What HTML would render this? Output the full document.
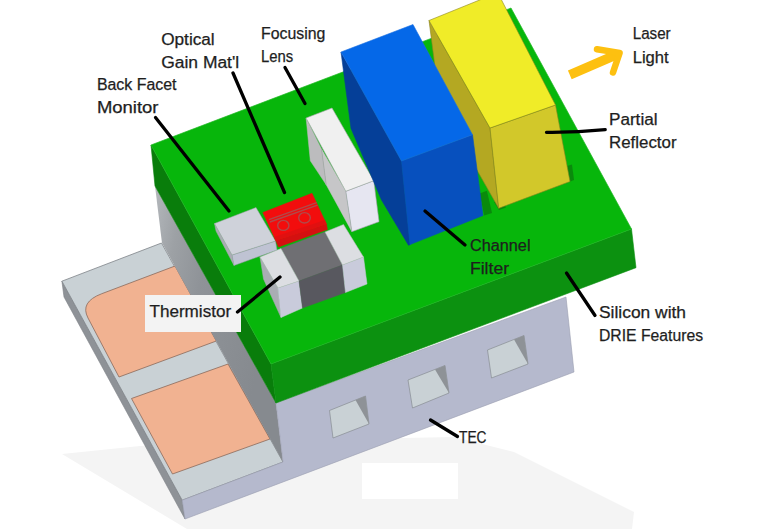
<!DOCTYPE html>
<html><head><meta charset="utf-8">
<style>
html,body{margin:0;padding:0;background:#fff;}
body{width:768px;height:529px;overflow:hidden;}
svg{display:block;}
text{font-family:"Liberation Sans",sans-serif;font-size:16px;fill:#1e1e1e;stroke:#1e1e1e;stroke-width:0.25px;}
</style></head><body>
<svg width="768" height="529" viewBox="0 0 768 529">
<rect width="768" height="529" fill="#ffffff"/>
<defs>
<linearGradient id="tl" gradientUnits="userSpaceOnUse" x1="155" y1="200" x2="285" y2="225">
<stop offset="0" stop-color="#b2b6ba"/><stop offset="0.2" stop-color="#9da1a5"/><stop offset="0.45" stop-color="#8f9398"/><stop offset="1" stop-color="#868a8f"/>
</linearGradient>
</defs>
<!-- shadow -->
<polygon points="62,454 140,446 300,440 454,437 514,452 634,512 632,529 187,529" fill="#f4f4f4"/>
<rect x="362" y="463" width="96" height="36" fill="#ffffff"/>

<!-- platform -->
<polygon points="61.9,281.2 182.2,500.2 185,519 64,297" fill="#8e9297" stroke="#7d8186" stroke-width="0.6"/>
<polygon points="61.9,281.2 161.5,243 283,462 182.2,500.2" fill="#c9d1d5" stroke="#7d8388" stroke-width="0.8"/>
<!-- pads -->
<path d="M101.8,293.7 L175,266 L216.3,341 L119,377 L88,318 Q79.6,302 101.8,293.7 Z" fill="#f1b291" stroke="#8a6a5a" stroke-width="0.8"/>
<polygon points="131.5,398.5 228,364 270,439 172.5,474" fill="#f1b291" stroke="#8a6a5a" stroke-width="0.8"/>

<!-- TEC left face -->
<polygon points="155,186 162,243 283,462 276,403" fill="url(#tl)"/>
<!-- TEC front face -->
<polygon points="182.2,500.2 283,462 276,403 566,297 574,372 185,519" fill="#b5b9cd" stroke="#9a9eb0" stroke-width="0.6"/>
<!-- holes -->
<g>
<polygon points="329.5,410.5 365.5,396 369,424 333,438" fill="#c9d1d5" stroke="#7d8388" stroke-width="0.6"/>
<polygon points="355.5,400 365.5,396 369,424" fill="#8e9297"/>
<polygon points="408,380 445,365.5 449,393 412.5,408" fill="#c9d1d5" stroke="#7d8388" stroke-width="0.6"/>
<polygon points="435,369.5 445,365.5 449,393" fill="#8e9297"/>
<polygon points="487.5,350 524,335.5 528,364 491.5,378" fill="#c9d1d5" stroke="#7d8388" stroke-width="0.6"/>
<polygon points="514,339.5 524,335.5 528,364" fill="#8e9297"/>
</g>

<!-- green slab -->
<polygon points="151,145 155,186 276,403 271,364" fill="#097d0b" stroke="#097d0b" stroke-width="0.6"/>
<polygon points="271,364 631.5,229 636,267.7 276,403" fill="#0c9110" stroke="#0c9110" stroke-width="0.6"/>
<polygon points="151,145 511,8 631.5,229 271,364" fill="#07b60b" stroke="#1eb822" stroke-width="0.7"/>
<!-- trenches -->
<polygon points="494,202 499,210 506,207.5 501,199" fill="#0a8a0c"/>
<polygon points="567,166 572,164.5 574,180 569,182" fill="#0a8a0c"/>
<polygon points="479.6,193.4 486.9,190.8 492,213 484.3,215.6" fill="#0a8a0c"/>

<!-- back facet monitor -->
<polygon points="214.5,223.5 232,255 234,265.5 216,231" fill="#a9adb3" stroke="#a9adb3" stroke-width="0.5"/>
<polygon points="232,255 275.5,241 277,250 234,265.5" fill="#bfc3d3" stroke="#9498a6" stroke-width="0.5"/>
<polygon points="214.5,223.5 256,207.5 275.5,241 232,255" fill="#cfd2da" stroke="#9aa0a6" stroke-width="0.5"/>

<!-- red gain -->
<polygon points="275.7,240.5 326.4,223.9 327.4,229.6 278.5,247" fill="#d41010" stroke="#d41010" stroke-width="0.5"/>
<polygon points="262.9,212.5 312,193.3 326.4,223.9 275.7,240.5" fill="#f20d0d" stroke="#f20d0d" stroke-width="0.5"/>
<polygon points="274,237 325,220 326.4,223.9 275.7,240.5" fill="#e01010"/>
<g stroke="#b04a4a" stroke-width="1.4" fill="none">
<line x1="268.9" y1="219.6" x2="316.6" y2="202.7"/>
<line x1="269.9" y1="222" x2="317.5" y2="205.2"/>
<ellipse cx="283.3" cy="225.4" rx="5.6" ry="5"/>
<ellipse cx="304.5" cy="217.8" rx="5.8" ry="5.2"/>
</g>

<!-- lens -->
<polygon points="348,126.5 352,134.5 373,176 368,166" fill="#0a8a0c"/>
<polygon points="306.1,118 321.5,149 326.2,184.7 310.3,160.8" fill="#bcbcbe" stroke="#bcbcbe" stroke-width="0.5"/>
<polygon points="321.5,149 345.8,191.3 351.9,231.7 326.2,184.7" fill="#c6c6c8" stroke="#c6c6c8" stroke-width="0.5"/>
<line x1="321.5" y1="149" x2="326.2" y2="184.7" stroke="#9a9a9e" stroke-width="0.6"/>
<polygon points="345.8,191.3 373.8,180.7 379.1,221.7 351.9,231.7" fill="#e6e6f1" stroke="#9a9aa4" stroke-width="0.6"/>
<polygon points="306.1,118 332,108 373.8,180.7 345.8,191.3" fill="#f0f0f0" stroke="#a8a8ac" stroke-width="0.6"/>

<!-- thermistor -->
<polygon points="260,257 278,288 281,317.5 263.5,279" fill="#a9adb3" stroke="#a9adb3" stroke-width="0.5"/>
<polygon points="278,288 299,281 302.5,308 281,317.5" fill="#c9cbdb" stroke="#c9cbdb" stroke-width="0.5"/>
<polygon points="281,248.5 325,232 342.5,265 299,281" fill="#6f6f73" stroke="#6f6f73" stroke-width="0.5"/>
<polygon points="299,281 342.5,265 345.5,292.5 302.5,308" fill="#58585f" stroke="#58585f" stroke-width="0.5"/>
<polygon points="342.5,265 363.5,257 367,284 345.5,292.5" fill="#c9cbdb" stroke="#c9cbdb" stroke-width="0.5"/>
<polygon points="260,257 281,248.5 299,281 278,288" fill="#dcdee2" stroke="#b4b6bc" stroke-width="0.5"/>
<polygon points="325,232 343.5,224.5 363.5,257 342.5,265" fill="#dcdee2" stroke="#b4b6bc" stroke-width="0.5"/>

<!-- yellow -->
<polygon points="429,20.5 490,128 498.7,208.3 440,105" fill="#b4a822" stroke="#8c8420" stroke-width="0.6"/>
<polygon points="490,128 555.5,105 570,181.5 498.7,208.3" fill="#d2c82a" stroke="#8c8420" stroke-width="0.6"/>
<polygon points="429,20.5 487,-3 500,-3 555.5,105 490,128" fill="#f0ec28" stroke="#8c8420" stroke-width="0.6"/>

<!-- blue -->
<polygon points="341,52 401.5,161 410,244.6 408.5,245.3 381.5,200 373.2,180.5 351,128.5" fill="#053f98" stroke="#053f98" stroke-width="0.6"/>
<polygon points="401.5,161 472.5,134.7 483,215.5 410,244.6" fill="#0750be" stroke="#0750be" stroke-width="0.6"/>
<polygon points="341,52 413,24.5 472.5,134.7 401.5,161" fill="#0568e8" stroke="#1a6ee0" stroke-width="0.6"/>

<!-- arrow -->
<g stroke="#fdc010" fill="none">
<line x1="569.8" y1="74.8" x2="616" y2="54.8" stroke-width="9.5" stroke-linecap="butt"/>
<polyline points="597,49.2 619.6,52.9 613,72.5" stroke-width="6.5" stroke-linejoin="round" stroke-linecap="round"/>
</g>

<!-- leader lines -->
<g stroke="#000" stroke-width="3.3" stroke-linecap="round">
<line x1="285" y1="67.5" x2="305" y2="103.5"/>
<line x1="233" y1="73" x2="284.5" y2="192.5"/>
<line x1="155.5" y1="117.5" x2="229" y2="211"/>
<path d="M546.5,132.3 Q576,132.6 605.2,129.7" fill="none" stroke-width="3.3"/>
<line x1="425" y1="211" x2="465" y2="245"/>
<line x1="566.5" y1="273" x2="595" y2="315.5"/>
<line x1="430.5" y1="420" x2="457.5" y2="436.5"/>
</g>

<!-- thermistor label -->
<rect x="145" y="295" width="96" height="37" fill="#f3f3f3"/>
<line x1="237.5" y1="312" x2="280" y2="277" stroke="#000" stroke-width="3.3" stroke-linecap="round"/>

<!-- text -->
<text x="161.2" y="44.8" textLength="53.5" lengthAdjust="spacingAndGlyphs">Optical</text>
<text x="161.2" y="68.1" textLength="78" lengthAdjust="spacingAndGlyphs">Gain Mat'l</text>
<text x="261.1" y="38.7" textLength="64.3" lengthAdjust="spacingAndGlyphs">Focusing</text>
<text x="261.1" y="61.7" textLength="32.2" lengthAdjust="spacingAndGlyphs">Lens</text>
<text x="96.9" y="90.2" textLength="79.6" lengthAdjust="spacingAndGlyphs">Back Facet</text>
<text x="96.9" y="113.2" textLength="61.6" lengthAdjust="spacingAndGlyphs">Monitor</text>
<text x="632.7" y="39.2" textLength="38" lengthAdjust="spacingAndGlyphs">Laser</text>
<text x="632.7" y="62.7" textLength="36" lengthAdjust="spacingAndGlyphs">Light</text>
<text x="609" y="125" textLength="48.5" lengthAdjust="spacingAndGlyphs">Partial</text>
<text x="609" y="147.5" textLength="67.5" lengthAdjust="spacingAndGlyphs">Reflector</text>
<text x="470" y="251" textLength="60.5" lengthAdjust="spacingAndGlyphs">Channel</text>
<text x="470" y="274" textLength="39" lengthAdjust="spacingAndGlyphs">Filter</text>
<text x="599" y="318" textLength="87" lengthAdjust="spacingAndGlyphs">Silicon with</text>
<text x="599" y="340.5" textLength="104" lengthAdjust="spacingAndGlyphs">DRIE Features</text>
<text x="459" y="442.5" textLength="27.5" lengthAdjust="spacingAndGlyphs">TEC</text>
<text x="149.5" y="317" textLength="81.6" lengthAdjust="spacingAndGlyphs">Thermistor</text>
</svg>
</body></html>
